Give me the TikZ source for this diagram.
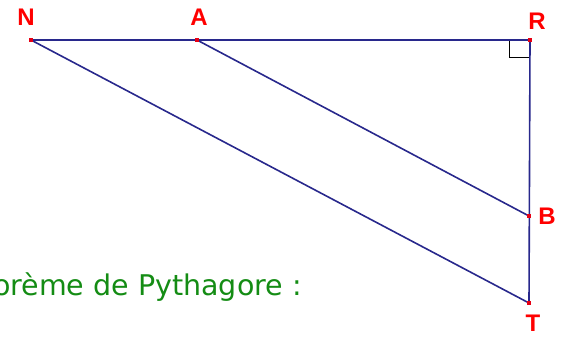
\documentclass[tikz,border=0pt]{standalone}
\usepackage{fontspec}
\setmainfont{Liberation Sans}
\newfontfamily\txtfont{DejaVu Sans}
\begin{document}
\begin{tikzpicture}[x=1pt,y=-1pt,
  seg/.style={draw={rgb,255:red,40;green,40;blue,140},line width=1.6pt},
  ptlabel/.style={text={rgb,255:red,255;green,0;blue,0},font=\bfseries\fontsize{24}{24}\selectfont,inner sep=0pt},
  dot/.style={fill={rgb,255:red,230;green,0;blue,20},draw=none,minimum size=4.5pt,inner sep=0pt,rectangle}]
\useasboundingbox (0,0) rectangle (567,338);
\clip (0,0) rectangle (567,338);
\coordinate (N) at (31,40);
\coordinate (A) at (197,40);
\coordinate (R) at (530,40);
\coordinate (B) at (529,216);
\coordinate (T) at (529,303);
\draw[line width=0.8pt] (509,40) -- (509,57) -- (530,57);
\draw[seg] (N) -- (R) -- (T) -- (N);
\draw[seg] (A) -- (B);
\foreach \p in {N,A,R,B,T} \node[dot] at (\p) {};
\node[ptlabel] (lN) at (26,17) {N};
\node[ptlabel] (lA) at (199,17) {A};
\node[ptlabel] (lR) at (537,21) {R};
\node[ptlabel] (lB) at (547,216) {B};
\node[ptlabel] (lT) at (533,323) {T};
\node[anchor=base east,inner sep=0pt,text={rgb,255:red,20;green,140;blue,20},font=\txtfont\fontsize{28.5}{28.5}\selectfont] (txt) at (302,295) {orème de Pythagore :};
\end{tikzpicture}
\end{document}
